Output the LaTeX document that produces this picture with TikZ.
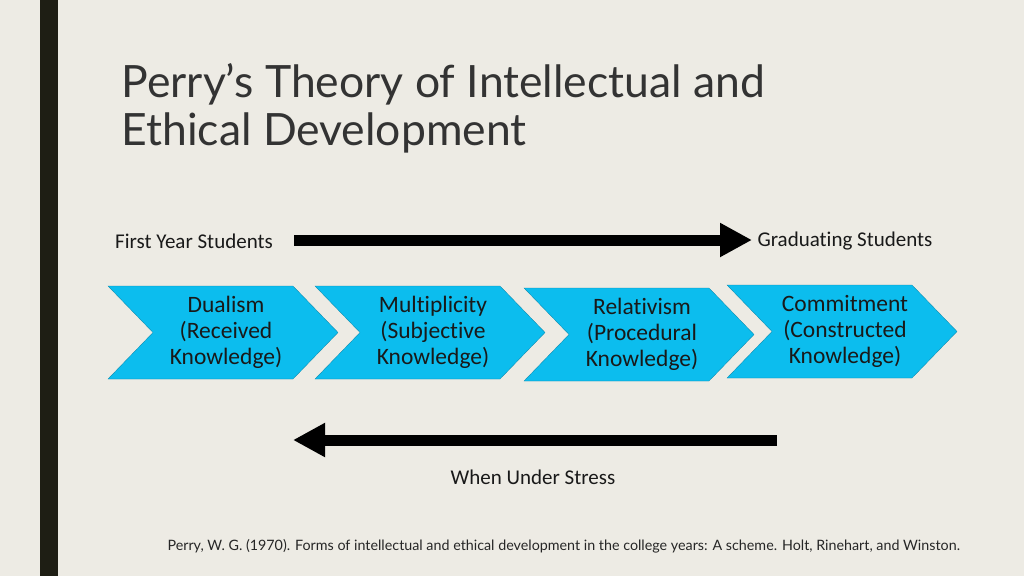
\documentclass[tikz,border=0pt]{standalone}
\usepackage{fontspec}
\setmainfont{Carlito}[Ligatures=NoCommon]
\newfontfamily\titlefont{Lato}
\usetikzlibrary{arrows.meta}
\definecolor{paper}{HTML}{EDEBE4}
\definecolor{barcol}{HTML}{1E1E14}
\definecolor{chevblue}{HTML}{0CBDEE}
\tikzset{
  chevron/.style={fill=chevblue, draw=chevblue!70!black, line width=0.3pt},
  chevtext/.style={align=center, font=\fontsize{23.5}{26}\selectfont, text=black!90},
  label/.style={font=\fontsize{21}{24}\selectfont, text=black!90},
  bigarrow/.style={line width=11pt, -{Triangle[length=32pt,width=32pt]}, shorten >=-2pt}
}
\begin{document}
\begin{tikzpicture}[x=1pt,y=-1pt]

      \fill[paper] (0,0) rectangle (1024,576);
      \useasboundingbox (0,0) rectangle (1024,576);
      \fill[barcol] (40,0) rectangle (58,576);

      \node[anchor=north west, align=left, text=black!80,
            font=\titlefont\fontsize{44.5}{48}\selectfont] (title) at (118,60)
        {Perry’s Theory of Intellectual and\\Ethical Development};

      % chevrons
      \foreach \x/\y/\name/\txt in {108/286/dual/{Dualism\\(Received\\Knowledge)},
                                    315/286/mult/{Multiplicity\\(Subjective\\Knowledge)},
                                    524/288/rel/{Relativism\\(Procedural\\Knowledge)},
                                    727/285/comm/{Commitment\\(Constructed\\Knowledge)}} {
        \draw[chevron] (\x,\y) -- ++(185,0) -- ++(45,46.5) -- ++(-45,46.5)
          -- ++(-185,0) -- ++(45,-46.5) -- cycle;
        \node[chevtext] (\name) at (\x+118,\y+46) {\txt};
      }

      \node[label] (first) at (194,241) {First Year Students};
      \node[label] (grad) at (845,241) {Graduating Students};
      \coordinate (topstart) at (294,240);
      \coordinate (topend) at (750,240);
      \draw[bigarrow] (topstart) -- (topend);

      \coordinate (botstart) at (777,440);
      \coordinate (botend) at (295,440);
      \draw[bigarrow] (botstart) -- (botend);
      \node[label] (stress) at (533,477) {When Under Stress};

      \node[anchor=west, font=\titlefont\fontsize{14.3}{16}\selectfont, text=black!85] (cite) at (164,546)
        {Perry, W. G. (1970). Forms of intellectual and ethical development in the college years: A scheme. Holt, Rinehart, and Winston.};

    \end{tikzpicture}
\end{document}
